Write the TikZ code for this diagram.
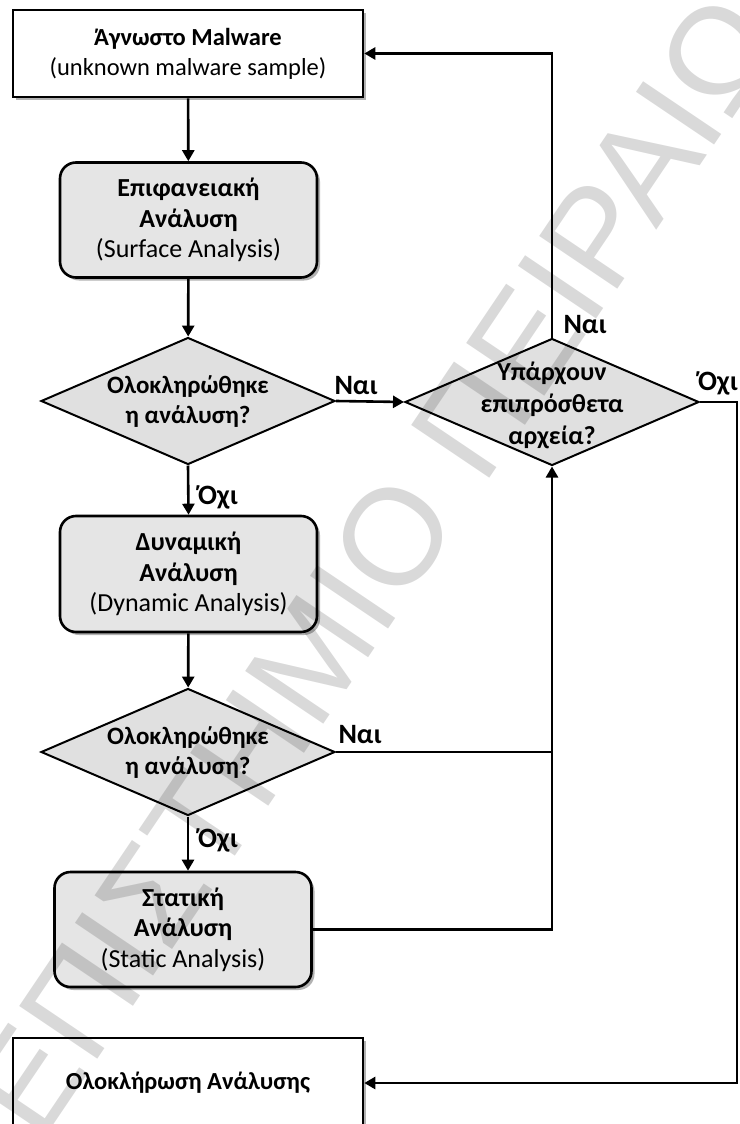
\documentclass[tikz,border=0pt]{standalone}
\usepackage{fontspec}
\setmainfont{Carlito}
\newfontfamily\wmfont{Liberation Sans}
\usetikzlibrary{shapes.geometric, arrows.meta, shadows}

\begin{document}
\begin{tikzpicture}[x=1pt, y=-1pt,
  every node/.style={font=\fontsize{24.5}{30}\selectfont, align=center, inner sep=0pt},
  softshadow/.style={drop shadow={shadow xshift=3pt, shadow yshift=-3pt, fill=black, opacity=0.3}},
  endbox/.style={draw, line width=2.6pt, fill=white, minimum width=350pt, minimum height=87pt, softshadow},
  proc/.style={draw, line width=2.6pt, rounded corners=16pt, fill=black!10, minimum width=257pt, minimum height=115pt, softshadow, font=\fontsize{26}{30.5}\selectfont},
  dec/.style={draw, line width=2pt, diamond, fill=black!12, minimum width=294pt, minimum height=127pt},
  dectext/.style={font=\bfseries\fontsize{25}{30}\selectfont},
  flow/.style={line width=2.6pt, -{Triangle[length=11pt, width=12pt]}},
  link/.style={line width=2.6pt},
  tag/.style={font=\bfseries\fontsize{28}{30}\selectfont},
]
\useasboundingbox (0,0) rectangle (739,1124);
\fill[white] (0,0) rectangle (739,1124);

% boxes
\node[endbox] (top) at (188,53.5)
  {\textbf{Άγνωστο Malware}\\(unknown malware sample)};
\node[proc] (surf) at (188.5,220)
  {\textbf{Επιφανειακή}\\\textbf{Ανάλυση}\\(Surface Analysis)};
\node[dec] (d1) at (188,401) {};
\node[dectext] (d1t) at (188,402) {Ολοκληρώθηκε\\η ανάλυση?};
\node[dec] (d2) at (552,402) {};
\node[dectext, font=\bfseries\fontsize{26}{32}\selectfont] (d2t) at (552,405) {Υπάρχουν\\επιπρόσθετα\\αρχεία?};
\node[proc, minimum height=116pt] (dyn) at (188.5,574)
  {\textbf{Δυναμική}\\\textbf{Ανάλυση}\\(Dynamic Analysis)};
\node[dec] (d3) at (188,752) {};
\node[dectext] (d3t) at (188,753) {Ολοκληρώθηκε\\η ανάλυση?};
\node[proc] (stat) at (183,929.5)
  {\textbf{Στατική}\\\textbf{Ανάλυση}\\(Static Analysis)};
\node[endbox, minimum height=90pt] (fin) at (188,1083)
  {\textbf{Ολοκλήρωση Ανάλυσης}};

\coordinate (rt) at (737,0);

% connectors
\draw[flow] (top) -- (surf);
\draw[flow] (surf) -- (d1);
\draw[flow] (d1.east) -- (d2.west);
\draw[flow] (d1.south) -- (dyn.north);
\draw[flow] (dyn) -- (d3);
\draw[flow] (d3.south) -- (d3.south |- stat.north);
\draw[link] (d3.east) -- (d3.east -| d2.south);
\draw[flow] (stat.east) -| (d2.south);
\draw[flow] (d2.north) |- (top.east);
\draw[flow] (d2.east) -- (d2.east -| rt) |- (fin.east);

% branch labels
\node[tag] (l1) at (356,386) {Ναι};
\node[tag] (l2) at (218,497) {Όχι};
\node[tag] (l3) at (360,735) {Ναι};
\node[tag] (l4) at (218,840) {Όχι};
\node[tag] (l5) at (585,325) {Ναι};
\node[tag] (l6) at (718,383) {Όχι};

% watermark
\node[font=\wmfont\fontsize{137}{137}\selectfont, text=black, text opacity=0.15, rotate=56] (wm) at (317,650) {ΠΑΝΕΠΙΣΤΗΜΙΟ ΠΕΙΡΑΙΩΣ};
\end{tikzpicture}
\end{document}
